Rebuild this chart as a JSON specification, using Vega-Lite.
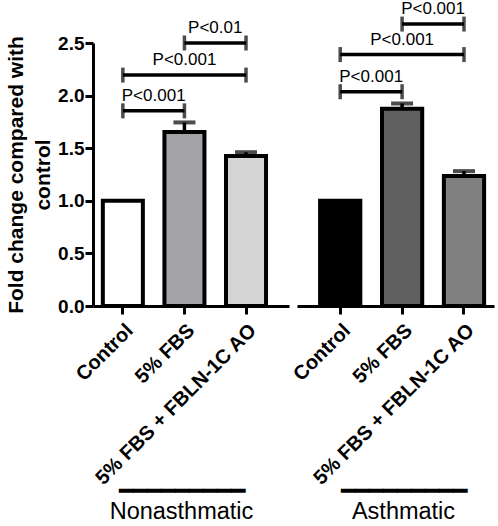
{
  "$schema": "https://vega.github.io/schema/vega-lite/v6.json",
  "padding": {"left": 5, "top": 0, "right": 2, "bottom": 0},
  "background": "white",
  "config": {
    "view": {"stroke": null},
    "font": "Liberation Sans",
    "axis": {"grid": false, "domainColor": "black", "domainWidth": 3, "tickColor": "black", "tickWidth": 3, "tickSize": 8, "labelColor": "black", "titleColor": "black", "labelLimit": 0}
  },
  "data": {"values": [
    {"kind": "bar", "group": "Nonasthmatic", "cond": "Control", "bar": "Nonasthmatic Control", "value": 1.0, "upper": 1.0},
    {"kind": "bar", "group": "Nonasthmatic", "cond": "5% FBS", "bar": "Nonasthmatic 5% FBS", "value": 1.655, "upper": 1.745},
    {"kind": "bar", "group": "Nonasthmatic", "cond": "5% FBS + FBLN-1C AO", "bar": "Nonasthmatic 5% FBS + FBLN-1C AO", "value": 1.425, "upper": 1.462},
    {"kind": "bar", "group": "Asthmatic", "cond": "Control", "bar": "Asthmatic Control", "value": 1.0, "upper": 1.0},
    {"kind": "bar", "group": "Asthmatic", "cond": "5% FBS", "bar": "Asthmatic 5% FBS", "value": 1.875, "upper": 1.925},
    {"kind": "bar", "group": "Asthmatic", "cond": "5% FBS + FBLN-1C AO", "bar": "Asthmatic 5% FBS + FBLN-1C AO", "value": 1.236, "upper": 1.282},
    {"kind": "sig", "group": "Nonasthmatic", "cond": "Control", "cond2": "5% FBS", "span": "adjacent", "value": 1.855, "label": "P<0.001"},
    {"kind": "sig", "group": "Nonasthmatic", "cond": "Control", "cond2": "5% FBS + FBLN-1C AO", "span": "wide", "value": 2.195, "label": "P<0.001"},
    {"kind": "sig", "group": "Nonasthmatic", "cond": "5% FBS", "cond2": "5% FBS + FBLN-1C AO", "span": "adjacent", "value": 2.5, "label": "P<0.01"},
    {"kind": "sig", "group": "Asthmatic", "cond": "Control", "cond2": "5% FBS", "span": "adjacent", "value": 2.037, "label": "P<0.001"},
    {"kind": "sig", "group": "Asthmatic", "cond": "Control", "cond2": "5% FBS + FBLN-1C AO", "span": "wide", "value": 2.39, "label": "P<0.001"},
    {"kind": "sig", "group": "Asthmatic", "cond": "5% FBS", "cond2": "5% FBS + FBLN-1C AO", "span": "adjacent", "value": 2.68, "label": "P<0.001"}
  ]},
  "resolve": {"scale": {"x": "independent", "y": "shared"}},
  "spacing": 0,
  "hconcat": [
    {
      "width": 196,
      "height": 263,
      "transform": [{"filter": "datum.group === 'Nonasthmatic'"}],
      "encoding": {
        "x": {"field": "cond", "type": "nominal", "sort": ["Control", "5% FBS", "5% FBS + FBLN-1C AO"],
              "scale": {"domain": ["Control", "5% FBS", "5% FBS + FBLN-1C AO"], "paddingInner": 0.35, "paddingOuter": 0.2665, "align": 0.3},
              "axis": {"labelAngle": -45, "labelFontSize": 20, "labelFontWeight": "bold", "labelPadding": 6,
                       "title": ["━━━━━━━━━", "Nonasthmatic"], "titleFontSize": 23.5, "titleFontWeight": "normal", "titleLineHeight": 20, "titlePadding": -9, "titleX": 88}},
        "y": {"field": "value", "type": "quantitative",
              "scale": {"domain": [0, 2.5], "nice": false, "zero": true},
              "axis": {"values": [0, 0.5, 1, 1.5, 2, 2.5], "format": ".1f", "labelFontSize": 19, "labelFontWeight": "bold", "labelPadding": 1,
                       "title": ["Fold change compared with", "control"], "titleFontSize": 21, "titleFontWeight": "bold", "titleLineHeight": 27, "titlePadding": 4}}
      },
      "layer": [
        {"transform": [{"filter": "datum.kind === 'bar'"}], "mark": {"type": "bar", "stroke": "black", "strokeWidth": 4},
         "encoding": {"fill": {"field": "bar", "type": "nominal", "legend": null,
           "scale": {"domain": ["Nonasthmatic Control", "Nonasthmatic 5% FBS", "Nonasthmatic 5% FBS + FBLN-1C AO", "Asthmatic Control", "Asthmatic 5% FBS", "Asthmatic 5% FBS + FBLN-1C AO"],
                     "range": ["#ffffff", "#a2a2a7", "#d4d4d4", "#000000", "#5f5f5f", "#808080"]}}}},
        {"transform": [{"filter": "datum.kind === 'bar' && datum.upper > datum.value"}], "mark": {"type": "rule", "color": "black", "strokeWidth": 3.5},
         "encoding": {"y2": {"field": "upper"}}},
        {"transform": [{"filter": "datum.kind === 'bar' && datum.upper > datum.value"}], "mark": {"type": "tick", "color": "black", "size": 22, "thickness": 4, "orient": "horizontal"},
         "encoding": {"y": {"field": "upper", "type": "quantitative"}}},
        {"transform": [{"filter": "datum.kind === 'sig'"}], "mark": {"type": "rule", "color": "black", "strokeWidth": 3.5},
         "encoding": {"x2": {"field": "cond2"}}},
        {"transform": [{"filter": "datum.kind === 'sig'"}], "mark": {"type": "tick", "color": "black", "size": 15, "thickness": 3.5, "orient": "vertical"},
         "encoding": {}},
        {"transform": [{"filter": "datum.kind === 'sig'"}], "mark": {"type": "tick", "color": "black", "size": 15, "thickness": 3.5, "orient": "vertical"},
         "encoding": {"x": {"field": "cond2", "type": "nominal"}}},
        {"transform": [{"filter": "datum.kind === 'sig' && datum.span === 'adjacent'"}], "mark": {"type": "text", "fontSize": 17, "baseline": "alphabetic", "dy": -10, "color": "black"},
         "encoding": {"x": {"field": "cond", "type": "nominal", "bandPosition": 1.27}, "text": {"field": "label"}}},
        {"transform": [{"filter": "datum.kind === 'sig' && datum.span === 'wide'"}], "mark": {"type": "text", "fontSize": 17, "baseline": "alphabetic", "dy": -10, "color": "black"},
         "encoding": {"x": {"field": "cond", "type": "nominal", "bandPosition": 2.04}, "text": {"field": "label"}}}
      ]
    },
    {
      "width": 197,
      "height": 263,
      "transform": [{"filter": "datum.group === 'Asthmatic'"}],
      "encoding": {
        "x": {"field": "cond", "type": "nominal", "sort": ["Control", "5% FBS", "5% FBS + FBLN-1C AO"],
              "scale": {"domain": ["Control", "5% FBS", "5% FBS + FBLN-1C AO"], "paddingInner": 0.35, "paddingOuter": 0.2665, "align": 0.7},
              "axis": {"labelAngle": -45, "labelFontSize": 20, "labelFontWeight": "bold", "labelPadding": 6,
                       "title": ["━━━━━━━━━", "Asthmatic"], "titleFontSize": 23.5, "titleFontWeight": "normal", "titleLineHeight": 20, "titlePadding": -9, "titleX": 106}},
        "y": {"field": "value", "type": "quantitative",
              "scale": {"domain": [0, 2.5], "nice": false, "zero": true},
              "axis": null}
      },
      "layer": [
        {"transform": [{"filter": "datum.kind === 'bar'"}], "mark": {"type": "bar", "stroke": "black", "strokeWidth": 4},
         "encoding": {"fill": {"field": "bar", "type": "nominal", "legend": null,
           "scale": {"domain": ["Nonasthmatic Control", "Nonasthmatic 5% FBS", "Nonasthmatic 5% FBS + FBLN-1C AO", "Asthmatic Control", "Asthmatic 5% FBS", "Asthmatic 5% FBS + FBLN-1C AO"],
                     "range": ["#ffffff", "#a2a2a7", "#d4d4d4", "#000000", "#5f5f5f", "#808080"]}}}},
        {"transform": [{"filter": "datum.kind === 'bar' && datum.upper > datum.value"}], "mark": {"type": "rule", "color": "black", "strokeWidth": 3.5},
         "encoding": {"y2": {"field": "upper"}}},
        {"transform": [{"filter": "datum.kind === 'bar' && datum.upper > datum.value"}], "mark": {"type": "tick", "color": "black", "size": 22, "thickness": 4, "orient": "horizontal"},
         "encoding": {"y": {"field": "upper", "type": "quantitative"}}},
        {"transform": [{"filter": "datum.kind === 'sig'"}], "mark": {"type": "rule", "color": "black", "strokeWidth": 3.5},
         "encoding": {"x2": {"field": "cond2"}}},
        {"transform": [{"filter": "datum.kind === 'sig'"}], "mark": {"type": "tick", "color": "black", "size": 15, "thickness": 3.5, "orient": "vertical"},
         "encoding": {}},
        {"transform": [{"filter": "datum.kind === 'sig'"}], "mark": {"type": "tick", "color": "black", "size": 15, "thickness": 3.5, "orient": "vertical"},
         "encoding": {"x": {"field": "cond2", "type": "nominal"}}},
        {"transform": [{"filter": "datum.kind === 'sig' && datum.span === 'adjacent'"}], "mark": {"type": "text", "fontSize": 17, "baseline": "alphabetic", "dy": -10, "color": "black"},
         "encoding": {"x": {"field": "cond", "type": "nominal", "bandPosition": 1.27}, "text": {"field": "label"}}},
        {"transform": [{"filter": "datum.kind === 'sig' && datum.span === 'wide'"}], "mark": {"type": "text", "fontSize": 17, "baseline": "alphabetic", "dy": -10, "color": "black"},
         "encoding": {"x": {"field": "cond", "type": "nominal", "bandPosition": 2.04}, "text": {"field": "label"}}}
      ]
    }
  ]
}
